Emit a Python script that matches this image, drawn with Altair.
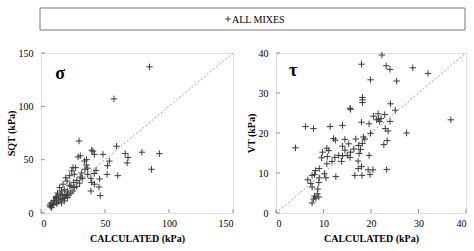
import altair as alt
import pandas as pd

# ---- data ----
sigma_calc = [84.7, 57, 29.7, 59, 92.5, 78.8, 65.8, 68, 67.3, 86.3, 60, 51.6, 53.4, 52, 48.4, 41.7, 39.6, 40.6,
              29, 30.7, 33.9, 35.4, 36.5, 34.4, 25, 27, 26, 24, 22.4, 31.8, 36.5, 39, 32.3, 28, 30.2, 25.5, 20.3,
              19.3, 17.2, 22.4, 26, 28, 39.6, 41.7, 39, 45.8, 45.3, 46.3, 43, 41.6, 35.6,
              14.6, 16.1, 18.2, 13, 15.1, 16.7, 18.75, 20.8, 19.8, 12, 13.5, 15.6, 17.2, 10.4, 12, 9.4, 7.3, 8.3,
              9.9, 18.2, 20.8, 23.4, 25, 21.9, 11.5, 7.8, 6.8, 8.8, 12.5, 14, 16.1, 18.75, 23.4, 30.7]
sigma_sqt = [137, 107, 67.5, 62.6, 55.7, 57, 55.7, 52, 47, 41, 35, 36.2, 48.7, 44.4, 55, 55, 58.8, 58,
             52.5, 53.7, 48.7, 45, 42, 41, 42.5, 42.5, 36.3, 39.4, 35, 37.5, 36.3, 32.5, 32.5, 30.6, 28, 28.7, 30,
             33, 27, 26, 23.8, 25, 28.7, 27, 20.6, 31.9, 24.4, 16.3, 40, 37, 50,
             23.8, 20.6, 21.9, 18.75, 17.5, 16.3, 17.5, 20.6, 16.3, 15.6, 13.8, 12.5, 13.8, 11.9, 10, 8.1, 6.3, 5,
             11.25, 11.25, 14.4, 18.75, 20.6, 16.9, 14.4, 9.4, 7.5, 7.2, 8.7, 11.25, 9.4, 14.4, 25, 33.7]

tau_calc = [22.3, 18.0, 23.2, 24.0, 28.8, 32.0, 19.9, 25.4,
            18.2, 18.2, 18.2, 15.6, 15.7, 24.1, 25.1,
            20.5, 21.5, 22.9, 21.2, 21.6, 21.8, 22.1, 24.0, 36.8,
            4.1, 6.2, 7.9, 11.4, 14.0, 18.0, 19.6, 23.0,
            19.9, 23.6, 27.5, 22.7, 23.4, 19.6, 19.4, 20.4, 19.8, 23.3,
            12.1, 12.5, 14.5, 10.7, 11.1, 9.8, 10.8, 9.6, 12.4, 13.2, 14.0, 14.5, 15.0, 15.6, 13.8, 11.8, 10.7,
            9.1, 8.3, 8.1, 7.6, 6.7, 7.3, 7.6, 8.8, 9.0, 9.1, 10.5, 10.2, 12.6, 8.7, 8.1, 7.9, 8.4, 7.6, 9.0,
            16.6, 17.3, 18.0, 18.1, 17.4, 17.8, 18.2, 17.5, 18.4, 18.7, 16.8, 16.4, 15.7, 14.0, 15.3, 17.3]
tau_vt = [39.5, 37.2, 36.8, 35.9, 36.3, 34.9, 33.3, 33.0,
          28.9, 28.3, 27.6, 26.2, 25.9, 27.3, 25.7,
          24.2, 24.8, 24.6, 23.3, 23.5, 22.9, 23.6, 22.9, 23.3,
          16.3, 21.6, 21.1, 21.6, 21.9, 22.7, 22.3, 21.1,
          19.9, 20.5, 20.0, 17.1, 18.1, 14.4, 10.8, 10.8, 9.6, 10.9,
          18.6, 18.2, 18.4, 16.2, 15.6, 15.2, 14.1, 13.8, 13.9, 14.4, 14.3, 15.7, 14.4, 13.9, 12.9, 12.9, 12.3,
          11.1, 10.6, 9.6, 9.4, 8.3, 7.4, 6.5, 6.0, 7.6, 8.8, 8.8, 9.8, 9.1, 4.8, 4.2, 3.5, 3.7, 2.5, 4.0,
          9.4, 11.1, 11.6, 9.4, 16.9, 15.9, 17.4, 14.9, 19.0, 18.5, 18.5, 16.0, 15.2, 16.7, 17.3, 13.0]

sigma_ticks = [0, 50, 100, 150]
tau_ticks = [0, 10, 20, 30, 40]
sigma_label = ["σ"]
sigma_label_pos = [15, 130]
tau_label = ["τ"]
tau_label_pos = [3.6, 35.5]
x_title = "CALCULATED (kPa)"
legend_label = ["ALL MIXES"]

FONT = "Liberation Serif"
PLUS = "M-1,0L1,0M0,-1L0,1"
W_L, W_R, H = 192, 190, 160


def panel(xs, ys, ticks, ytitle, greek, gpos, w, h, with_legend=False):
    lo, hi = ticks[0], ticks[-1]
    xsc = alt.Scale(domain=[lo, hi], nice=False, zero=False)
    ysc = alt.Scale(domain=[lo, hi], nice=False, zero=False)
    common = dict(grid=False, domain=False, ticks=False, labelFont=FONT, labelFontSize=10,
                  labelColor="#000", titleFont=FONT, titleFontSize=10, titleFontWeight="bold",
                  titleColor="#000")
    xax = alt.Axis(values=ticks, title=x_title, labelPadding=5, titlePadding=5, **common)
    yax = alt.Axis(values=ticks, title=ytitle, labelPadding=8, titlePadding=2, **common)
    xenc = alt.X("x:Q", scale=xsc, axis=xax)
    yenc = alt.Y("y:Q", scale=ysc, axis=yax)

    pts = alt.Chart(pd.DataFrame({"x": xs, "y": ys})).mark_point(
        shape=PLUS, size=42, filled=False, strokeWidth=1, color="#3a3a3a", opacity=1
    ).encode(x=xenc, y=yenc)
    diag = alt.Chart(pd.DataFrame({"x": [lo, hi], "y": [lo, hi]})).mark_line(
        color="#a0a0a0", strokeDash=[2, 2], strokeWidth=1
    ).encode(x=xenc, y=yenc)
    xt = alt.Chart(pd.DataFrame({"x": ticks})).mark_tick(
        orient="vertical", size=4, thickness=1, color="#666"
    ).encode(x=xenc, y=alt.value(h - 2))
    yt = alt.Chart(pd.DataFrame({"y": ticks})).mark_tick(
        orient="horizontal", size=4, thickness=1, color="#666"
    ).encode(y=yenc, x=alt.value(2))
    gl = alt.Chart(pd.DataFrame({"x": [gpos[0]], "y": [gpos[1]], "t": greek})).mark_text(
        font=FONT, fontSize=18, fontWeight="bold", align="center", baseline="middle", color="#000"
    ).encode(x=xenc, y=yenc, text="t:N")
    layers = [diag, xt, yt, pts, gl]
    if with_legend:
        ld = pd.DataFrame({"t": legend_label})
        box = alt.Chart(ld).mark_rect(fill="white", stroke="#777", strokeWidth=1).encode(
            x=alt.value(-1), x2=alt.value(424), y=alt.value(-45), y2=alt.value(-23))
        sym = alt.Chart(ld).mark_point(shape=PLUS, size=30, filled=False, strokeWidth=1,
                                       color="#3a3a3a", opacity=1).encode(
            x=alt.value(187), y=alt.value(-34))
        txt = alt.Chart(ld).mark_text(font=FONT, fontSize=10, align="left", baseline="middle",
                                      color="#000").encode(
            x=alt.value(191), y=alt.value(-33.5), text="t:N")
        layers += [box, sym, txt]
    return alt.layer(*layers).properties(width=w, height=h)


left = panel(sigma_calc, sigma_sqt, sigma_ticks, "SQT (kPa)", sigma_label, sigma_label_pos, W_L, H, True)
right = panel(tau_calc, tau_vt, tau_ticks, "VT (kPa)", tau_label, tau_label_pos, W_R, H)

chart = alt.hconcat(left, right, spacing=43, bounds="flush").properties(
    padding={"left": 5, "top": 7, "right": 0, "bottom": 0}
).configure_view(stroke="#8a8a8a", strokeWidth=1).configure(background="white")

chart.save("out.html", embed_options={"renderer": "svg", "actions": False})
